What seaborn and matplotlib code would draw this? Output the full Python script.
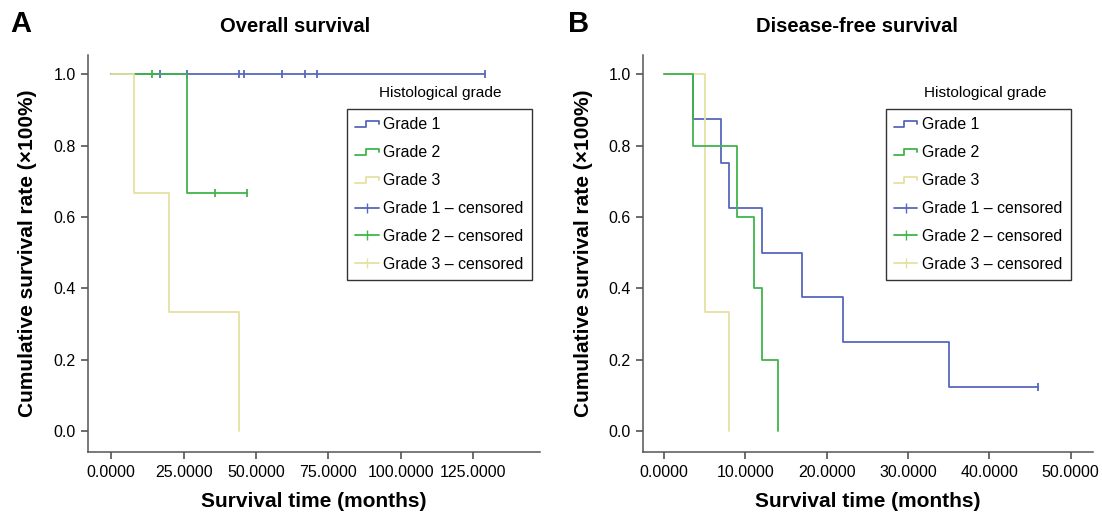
import numpy as np
import matplotlib
matplotlib.use("Agg")
import matplotlib.pyplot as plt
import seaborn as sns
from matplotlib.lines import Line2D
from matplotlib.legend_handler import HandlerBase

# ---- data ----
# A: overall survival
os_g1_time = [0, 129]
os_g1_surv = [1.0, 1.0]
os_g1_cens_time = [17, 26, 44, 46, 59, 67, 71, 129]
os_g1_cens_surv = [1.0, 1.0, 1.0, 1.0, 1.0, 1.0, 1.0, 1.0]

os_g2_time = [0, 26, 47]
os_g2_surv = [1.0, 0.667, 0.667]
os_g2_cens_time = [14, 36, 47]
os_g2_cens_surv = [1.0, 0.667, 0.667]

os_g3_time = [0, 8, 20, 44]
os_g3_surv = [1.0, 0.667, 0.333, 0.0]

# B: disease-free survival
dfs_g1_time = [0, 3.5, 7, 8, 12, 17, 22, 35, 46]
dfs_g1_surv = [1.0, 0.875, 0.75, 0.625, 0.5, 0.375, 0.25, 0.125, 0.125]
dfs_g1_cens_time = [46]
dfs_g1_cens_surv = [0.125]

dfs_g2_time = [0, 3.5, 9, 11, 12, 14]
dfs_g2_surv = [1.0, 0.8, 0.6, 0.4, 0.2, 0.0]

dfs_g3_time = [0, 5, 8]
dfs_g3_surv = [1.0, 0.333, 0.0]

grades = ["Grade 1", "Grade 2", "Grade 3"]
colours = {"Grade 1": "#5668be", "Grade 2": "#3fb44c", "Grade 3": "#e6e0a2"}


class StepHandler(HandlerBase):
    # little step-shaped legend key, like SPSS
    def create_artists(self, legend, orig_handle, xdescent, ydescent,
                       width, height, fontsize, trans):
        x0, x1 = -xdescent, -xdescent + width
        y0 = -ydescent + height * 0.2
        y1 = -ydescent + height * 0.75
        xm = x0 + width * 0.45
        xs = [x0, xm, xm, x1, x1]
        ys = [y0, y0, y1, y1, y0 + (y1 - y0) * 0.4]
        line = Line2D(xs, ys, color=orig_handle.get_color(), lw=1.3,
                      transform=trans)
        return [line]


sns.set_style("ticks")
plt.rcParams["font.family"] = ["Liberation Sans", "DejaVu Sans"]
plt.rcParams["text.color"] = "black"
plt.rcParams["axes.labelcolor"] = "black"

fig = plt.figure(figsize=(11.02, 5.16), dpi=100)
ax_a = fig.add_axes([0.0799, 0.124, 0.410, 0.769])
ax_b = fig.add_axes([0.5835, 0.124, 0.408, 0.769])


def km_line(ax, t, s, grade, z):
    sns.lineplot(x=t, y=s, ax=ax, color=colours[grade], lw=1.3,
                 drawstyle="steps-post", estimator=None, sort=False,
                 zorder=z, legend=False)


def censor(ax, t, s, grade, z):
    sns.scatterplot(x=t, y=s, ax=ax, marker="|", s=32, linewidth=1.3,
                    color=colours[grade], zorder=z, legend=False)


# Panel A
km_line(ax_a, os_g1_time, os_g1_surv, "Grade 1", 2)
censor(ax_a, os_g1_cens_time, os_g1_cens_surv, "Grade 1", 2)
km_line(ax_a, os_g2_time, os_g2_surv, "Grade 2", 3)
censor(ax_a, os_g2_cens_time, os_g2_cens_surv, "Grade 2", 3)
km_line(ax_a, os_g3_time, os_g3_surv, "Grade 3", 4)

# Panel B
km_line(ax_b, dfs_g1_time, dfs_g1_surv, "Grade 1", 2)
censor(ax_b, dfs_g1_cens_time, dfs_g1_cens_surv, "Grade 1", 2)
km_line(ax_b, dfs_g3_time, dfs_g3_surv, "Grade 3", 3)
km_line(ax_b, dfs_g2_time, dfs_g2_surv, "Grade 2", 4)

panels = [
    (ax_a, "A", "Overall survival", (-8, 148), np.arange(0, 126, 25), 0.573, 0.779, 0.268, 0.009),
    (ax_b, "B", "Disease-free survival", (-2.6, 52.7), np.arange(0, 51, 10), 0.54, 0.762, 0.778, 0.515),
]

for ax, letter, title, xlim, xticks, leg_x, lt_x, title_x, letter_x in panels:
    ax.set_xlim(*xlim)
    ax.set_ylim(-0.058, 1.053)
    ax.set_xticks(xticks)
    ax.set_yticks(np.arange(0, 1.01, 0.2))
    ax.set_xticklabels(["%.4f" % v for v in xticks])
    ax.set_yticklabels(["%.1f" % v for v in np.arange(0, 1.01, 0.2)])
    ax.tick_params(labelsize=11.5, length=5, width=1.1, color="#444444",
                   labelcolor="black", pad=4)
    for side in ["top", "right"]:
        ax.spines[side].set_visible(False)
    for side in ["left", "bottom"]:
        ax.spines[side].set_color("#555555")
        ax.spines[side].set_linewidth(1.1)

    ax.set_xlabel("Survival time (months)", fontsize=15, fontweight="bold", labelpad=9)
    ax.set_ylabel("Cumulative survival rate (\u00d7100%)", fontsize=15,
                  fontweight="bold")
    ax.yaxis.set_label_coords(-0.112, 0.5)

    # legend
    handles = [Line2D([], [], color=colours[g]) for g in grades]
    handles += [Line2D([], [], color=colours[g], marker="|", markersize=7, lw=1.3)
                for g in grades]
    labels = grades + [g + " \u2013 censored" for g in grades]
    handler_map = {h: StepHandler() for h in handles[:3]}
    leg = ax.legend(handles, labels, handler_map=handler_map, loc="upper left",
                    bbox_to_anchor=(leg_x, 0.864), borderaxespad=0, fontsize=11.4,
                    frameon=True, fancybox=False, edgecolor="black",
                    handlelength=1.5, handletextpad=0.3, labelspacing=0.82,
                    borderpad=0.5)
    leg.get_frame().set_linewidth(1.0)
    ax.text(lt_x, 0.904, "Histological grade", transform=ax.transAxes,
            ha="center", va="center", fontsize=11.1)

    fig.text(title_x, 0.948, title, fontsize=14.5, fontweight="bold",
             ha="center", va="center")
    fig.text(letter_x, 0.953, letter, fontsize=21, fontweight="bold", va="center")

plt.savefig("out.png", dpi=100)
